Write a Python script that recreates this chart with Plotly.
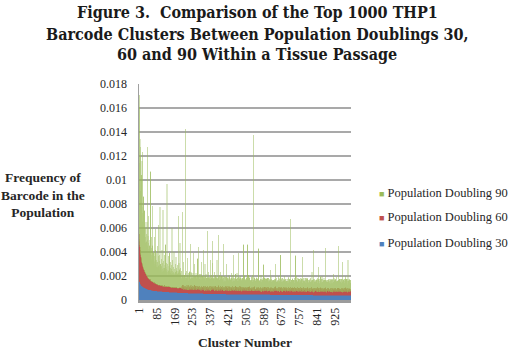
import plotly.graph_objects as go

# values are in units of 1e-5 (frequency of barcode)
SCALE = 1e-5

PD30_ROWS = [
    [170,162,155,150,146,142,138,135,132,129, 126,124,122,120,118,116,114,113,112,110, 109,108,107,106,105,104,103,102,101,100, 99,98,97,96,95,95,94,93,92,92, 91,90,90,89,88,88,87,87,86,86],
    [85,85,84,84,84,83,83,82,82,82, 81,81,81,80,80,80,79,79,79,79, 78,78,78,78,77,77,77,77,76,76, 76,76,76,75,75,75,75,75,74,74, 74,74,74,74,73,73,73,73,73,73],
    [72,72,72,72,72,72,71,71,71,71, 71,71,70,70,70,70,70,70,70,69, 69,69,69,69,69,69,68,68,68,68, 68,68,68,68,67,67,67,67,67,67, 67,67,66,66,66,66,66,66,66,66],
    [66,66,66,65,65,65,65,65,65,65, 65,65,64,64,64,64,64,64,64,64, 64,64,63,63,63,63,63,63,63,63, 63,63,62,62,62,62,62,62,62,62, 62,62,62,61,61,61,61,61,61,61],
    [61,61,61,61,61,60,60,60,60,60, 60,60,60,60,60,60,60,59,59,59, 59,59,59,59,59,59,59,59,59,59, 58,58,58,58,58,58,58,58,58,58, 58,58,58,58,57,57,57,57,57,57],
    [57,57,57,57,57,57,57,57,57,57, 57,57,57,57,57,56,56,56,56,56, 56,56,56,56,56,56,56,56,56,56, 56,56,56,56,55,55,55,55,55,55, 55,55,55,55,55,55,55,55,55,55],
    [55,55,55,55,55,54,54,54,54,54, 54,54,54,54,54,54,54,54,54,54, 54,54,54,54,54,53,53,53,53,53, 53,53,53,53,53,53,53,53,53,53, 53,53,53,53,53,53,52,52,52,52],
    [52,52,52,52,52,52,52,52,52,52, 52,52,52,52,52,52,52,52,52,52, 52,52,52,52,52,51,51,51,51,51, 51,51,51,51,51,51,51,51,51,51, 51,51,51,51,51,51,51,51,51,51],
    [51,51,51,51,51,51,51,51,51,51, 50,50,50,50,50,50,50,50,50,50, 50,50,50,50,50,50,50,50,50,50, 50,50,50,50,50,50,50,50,50,50, 49,49,49,49,49,49,49,49,49,49],
    [49,49,49,49,49,49,49,49,49,49, 49,49,49,49,49,49,49,49,49,49, 49,49,49,49,49,49,49,49,49,49, 48,48,48,48,48,48,48,48,48,48, 48,48,48,48,48,48,48,48,48,48],
    [48,48,48,48,48,48,48,48,48,48, 48,48,48,48,48,48,48,48,48,48, 47,47,47,47,47,47,47,47,47,47, 47,47,47,47,47,47,47,47,47,47, 47,47,47,47,47,47,47,47,47,47],
    [47,47,47,47,47,47,47,47,47,47, 47,47,47,47,47,46,46,46,46,46, 46,46,46,46,46,46,46,46,46,46, 46,46,46,46,46,46,46,46,46,46, 46,46,46,46,46,46,46,46,46,46],
    [46,46,46,46,46,46,46,46,46,46, 46,46,46,46,46,46,46,46,46,46, 45,45,45,45,45,45,45,45,45,45, 45,45,45,45,45,45,45,45,45,45, 45,45,45,45,45,45,45,45,45,45],
    [45,45,45,45,45,45,45,45,45,45, 45,45,45,45,45,45,45,45,45,45, 45,45,45,45,45,44,44,44,44,44, 44,44,44,44,44,44,44,44,44,44, 44,44,44,44,44,44,44,44,44,44],
    [44,44,44,44,44,44,44,44,44,44, 44,44,44,44,44,44,44,44,44,44, 44,44,44,44,44,43,43,43,43,43, 43,43,43,43,43,43,43,43,43,43, 43,43,43,43,43,43,43,43,43,43],
    [43,43,43,43,43,43,43,43,43,43, 43,43,43,43,43,43,43,43,43,43, 42,42,42,42,42,42,42,42,42,42, 42,42,42,42,42,42,42,42,42,42, 42,42,42,42,42,42,42,42,42,42],
    [42,42,42,42,42,42,42,42,42,42, 42,42,42,42,42,42,42,42,42,42, 41,41,41,41,41,41,41,41,41,41, 41,41,41,41,41,41,41,41,41,41, 41,41,41,41,41,41,41,41,41,41],
    [41,41,41,41,41,41,41,41,41,41, 41,41,41,41,41,41,41,41,41,41, 40,40,40,40,40,40,40,40,40,40, 40,40,40,40,40,40,40,40,40,40, 40,40,40,40,40,40,40,40,40,40],
    [40,40,40,40,40,40,40,40,40,40, 40,40,40,40,40,40,40,40,40,40, 40,40,40,40,40,39,39,39,39,39, 39,39,39,39,39,39,39,39,39,39, 39,39,39,39,39,39,39,39,39,39],
    [39,39,39,39,39,39,39,39,39,39, 39,39,39,39,39,39,39,39,39,39, 39,39,39,39,39,38,38,38,38,38, 38,38,38,38,38,38,38,38,38,38, 38,38,38,38,38,38,38,38,38,38],
]

PD60_ROWS = [
    [380,350,335,310,295,275,265,250,240,232, 222,214,205,198,192,185,178,172,166,160, 157,152,149,145,142,139,136,133,130,127, 124,121,119,116,113,111,108,106,104,102, 100,98,96,95,93,91,90,88,87,86],
    [85,88,82,80,84,78,76,80,74,73, 76,71,70,74,68,67,70,65,66,64, 68,63,62,65,61,60,64,59,58,62, 57,60,56,55,59,54,57,53,56,52, 55,51,54,50,53,50,52,49,51,48],
    [50,47,49,46,52,45,48,46,44,50, 45,47,43,46,48,44,42,47,45,43, 55,44,42,46,43,45,41,44,42,48, 43,41,45,42,44,40,43,41,46,42, 40,44,41,43,39,42,45,40,42,41],
    [43,40,42,39,44,41,40,43,38,42, 40,41,39,45,40,38,42,39,41,40, 38,43,39,41,37,40,42,38,40,39, 41,37,40,38,42,39,37,41,38,40, 36,39,41,38,37,40,38,39,37,41],
    [40,28,55,33,47,62,30,44,25,51, 38,66,29,45,35,58,27,49,41,32, 60,36,24,53,43,31,68,39,26,48, 34,57,42,29,63,37,46,23,52,40, 30,59,35,44,27,65,38,50,28,45],
    [33,56,41,26,61,35,48,29,54,39, 24,67,43,31,50,36,58,27,45,40, 62,30,47,25,55,38,33,64,42,28, 51,37,59,26,46,34,63,41,29,53, 36,48,24,60,39,31,57,44,27,50],
    [42,27,58,35,49,30,63,38,25,54, 45,33,61,28,47,39,56,24,51,36, 29,65,41,34,52,26,59,43,31,48, 37,62,28,55,40,33,46,25,60,38, 30,53,44,27,64,35,49,32,57,41],
    [29,52,38,61,33,46,25,58,42,35, 64,30,49,27,55,40,32,60,36,45, 26,57,43,31,66,37,48,24,53,39, 34,59,28,50,41,62,30,45,27,56, 38,33,63,42,29,51,36,58,25,47],
    [44,31,57,26,50,38,63,29,46,35, 55,24,60,40,32,53,28,48,37,65, 30,45,27,58,41,34,62,36,25,52, 43,29,56,33,61,39,47,26,54,31, 64,35,42,28,59,37,50,30,45,33],
    [36,58,27,49,41,64,30,45,33,56, 25,51,38,62,29,47,35,59,26,43, 54,31,66,39,28,50,42,34,61,27, 46,37,57,24,52,40,32,63,44,29, 55,36,48,26,60,34,41,53,30,45],
    [28,51,37,60,32,45,24,56,41,34, 63,29,48,36,54,26,59,40,31,47, 35,62,27,50,43,30,57,38,25,53, 44,33,61,28,46,36,55,24,51,39, 32,58,42,27,64,35,49,30,44,37],
    [41,26,55,34,48,29,62,37,45,31, 57,25,50,39,33,60,28,46,36,53, 30,65,40,27,52,35,58,24,47,38, 32,56,43,29,61,34,49,26,54,40, 28,59,37,45,31,63,35,48,25,51],
    [34,57,29,49,38,62,27,44,35,55, 31,60,40,26,52,37,46,30,58,33, 48,24,63,39,29,54,42,32,59,27, 45,36,56,25,50,41,33,61,28,47, 38,53,30,64,35,44,26,57,40,31],
    [47,30,58,26,42,36,61,33,49,28, 55,39,24,63,34,46,31,57,38,27, 52,44,29,60,35,48,25,56,41,32, 62,37,27,50,43,30,59,34,46,26, 54,39,31,65,36,45,28,53,40,33],
    [30,55,38,27,61,35,47,29,52,41, 33,58,26,49,37,63,28,44,36,56, 31,50,40,25,60,34,46,30,57,39, 27,53,43,32,62,36,48,24,55,38, 29,59,42,33,51,35,64,28,45,37],
    [39,27,54,33,60,30,46,37,57,26, 49,35,62,29,44,38,55,25,51,34, 58,31,42,28,63,36,47,32,56,27, 45,40,59,26,52,35,61,30,48,37, 28,57,41,33,54,29,64,36,46,31],
    [33,56,28,47,38,61,31,45,27,58, 40,34,63,29,50,36,55,26,48,39, 30,59,43,25,52,37,62,32,46,28, 57,35,44,30,60,38,27,53,41,34, 64,29,49,36,55,31,47,26,58,39],
    [45,29,57,34,50,26,62,38,31,54, 36,60,28,47,40,33,58,25,52,37, 44,30,63,35,48,27,56,39,32,61, 29,46,41,55,26,51,36,59,31,43, 38,64,28,49,34,57,30,45,37,53],
    [31,54,39,27,60,35,46,29,57,40, 33,62,26,48,37,55,30,44,38,61, 28,51,42,34,59,27,47,36,63,31, 45,39,56,25,52,35,58,30,43,41, 26,60,37,49,32,55,29,46,38,53],
    [37,28,52,35,58,30,44,39,61,27, 49,34,55,31,46,26,60,38,42,33, 57,29,48,36,63,30,45,40,54,28, 51,35,59,26,47,37,56,32,43,39, 62,29,50,34,53,31,45,38,57,33],
]

PD90_ROWS = [
    [500,1100,650,1250,900,450,800,520,900,400, 600,700,380,450,850,420,360,950,500,340, 400,600,300,350,280,500,320,260,420,300, 250,380,270,230,340,280,220,450,300,1080, 260,220,350,240,200,300,520,230,190,280],
    [210,330,250,180,900,240,200,360,170,220, 280,190,160,300,210,640,180,150,250,200, 170,380,160,140,230,190,150,280,170,450, 160,200,140,260,180,150,320,140,190,130, 240,160,130,500,150,200,120,170,250,650],
    [140,180,120,160,220,130,110,170,300,140, 120,190,110,635,150,130,210,120,100,260, 140,110,180,130,350,120,100,160,200,110, 130,150,855,120,100,190,140,110,250,130, 100,170,120,280,110,140,100,160,120,210],
    [130,100,150,110,180,490,120,100,140,230, 110,130,100,170,120,300,110,100,150,120, 200,110,130,100,260,120,140,100,160,110, 190,120,100,140,600,110,130,100,210,120, 100,150,110,380,130,100,170,120,110,140],
    [75,95,85,640,90,75,120,85,95,75, 220,85,90,75,110,85,95,1320,85,75, 105,90,75,130,85,95,75,110,90,75, 260,85,95,75,105,90,75,85,125,75, 90,350,85,75,95,110,85,75,140,90],
    [75,95,85,75,110,300,85,90,75,105, 85,75,200,90,75,95,85,75,120,90, 75,85,105,75,90,250,85,75,95,355, 85,75,90,110,75,85,95,75,130,85, 75,90,85,105,75,230,85,75,90,95],
    [75,85,305,90,75,105,85,75,95,75, 90,210,85,75,95,75,110,85,75,90, 85,455,75,95,85,75,125,90,75,85, 105,75,90,75,85,250,75,95,85,75, 90,75,110,85,75,95,75,410,200,75],
    [85,75,95,75,90,85,75,120,75,90, 85,75,105,75,85,90,75,220,85,75, 95,75,85,460,75,90,85,75,105,75, 85,90,75,130,85,75,95,75,85,90, 75,110,85,75,90,75,95,360,75,85],
    [70,80,85,70,100,70,80,70,95,70, 85,70,80,210,70,85,70,80,100,70, 80,70,85,70,115,70,80,95,70,80, 70,85,70,80,110,70,85,70,80,70, 95,70,80,70,265,70,85,80,70,95],
    [70,80,70,85,70,100,80,70,85,70, 80,70,140,70,80,85,70,80,315,70, 85,70,80,70,100,70,80,85,70,125, 70,80,70,85,70,95,80,70,85,70, 80,70,365,80,70,85,70,100,80,70],
    [80,65,75,65,90,65,75,80,65,75, 65,385,75,65,80,65,100,75,65,80, 65,75,110,65,75,80,65,75,65,90, 75,65,80,65,75,65,105,75,65,1285, 75,65,80,65,75,65,90,65,80,75],
    [65,75,80,65,90,65,75,65,80,65, 75,100,65,340,75,65,80,65,75,65, 80,65,90,75,65,130,65,75,80,65, 75,65,80,65,75,90,65,220,65,75, 65,80,65,75,105,65,75,80,65,75],
    [65,75,80,65,75,65,110,65,75,80, 65,75,65,90,65,75,80,65,150,65, 75,65,80,65,75,65,90,75,65,80, 65,75,65,100,65,80,75,65,75,65, 80,65,75,65,220,65,75,80,65,75],
    [65,75,65,80,65,75,90,65,75,65, 80,65,75,65,80,65,75,270,65,80, 75,65,75,65,100,65,75,80,65,75, 65,80,65,75,65,130,65,75,80,65, 75,65,80,65,75,65,90,65,75,80],
    [65,75,80,65,75,65,100,65,75,80, 65,75,65,80,65,570,75,65,80,65, 75,65,80,65,75,90,65,75,65,80, 75,65,80,65,75,65,80,75,270,65, 75,65,80,65,105,65,75,80,65,75],
    [65,75,80,65,75,65,90,65,75,80, 65,75,65,110,65,75,80,65,75,65, 75,65,272,65,75,80,65,75,65,90, 65,75,80,65,75,65,80,65,75,105, 65,75,80,65,75,65,80,65,75,65],
    [75,65,80,65,75,65,100,65,75,80, 65,75,65,80,65,75,140,65,75,80, 65,75,80,65,325,65,75,80,65,75, 65,80,65,75,65,90,65,75,80,65, 75,65,80,65,75,65,80,205,75,65],
    [75,65,80,65,75,65,90,65,75,80, 65,75,65,110,65,75,80,65,75,65, 75,65,80,65,75,90,65,75,80,65, 75,345,65,75,80,65,75,65,80,65, 75,65,100,65,75,80,65,75,65,80],
    [65,75,80,65,75,65,80,65,75,90, 65,75,65,80,65,75,150,65,75,80, 65,75,80,65,75,65,80,65,75,65, 105,75,65,80,65,75,65,80,75,65, 75,65,377,75,65,80,65,75,65,80],
    [75,65,80,65,75,65,90,65,75,80, 65,245,65,75,80,65,75,65,80,65, 75,65,80,65,75,130,65,75,80,65, 75,65,80,65,75,255,65,75,80,65, 75,65,80,65,75,65,80,65,75,65],
]

for nm, rows in (("PD30", PD30_ROWS), ("PD60", PD60_ROWS), ("PD90", PD90_ROWS)):
    bad = [(i, len(r)) for i, r in enumerate(rows) if len(r) != 50]
    assert not bad, (nm, bad)

PD30 = [v * SCALE for r in PD30_ROWS for v in r]
PD60 = [v * SCALE for r in PD60_ROWS for v in r]
PD90 = [v * SCALE for r in PD90_ROWS for v in r]
CLUSTERS = list(range(1, len(PD30) + 1))

SERIES_NAMES = ["Population Doubling 30", "Population Doubling 60", "Population Doubling 90"]
SERIES_COLORS = ["#4F81BD", "#C0504D", "#9BBB59"]
X_TICKS = [1, 85, 169, 253, 337, 421, 505, 589, 673, 757, 841, 925]
Y_TICKS = [0, 0.002, 0.004, 0.006, 0.008, 0.01, 0.012, 0.014, 0.016, 0.018]
Y_TICK_LABELS = ["0", "0.002", "0.004", "0.006", "0.008", "0.01", "0.012", "0.014", "0.016", "0.018"]
TITLE_LINES = ["Figure 3.  Comparison of the Top 1000 THP1",
               "Barcode Clusters Between Population Doublings 30,",
               "60 and 90 Within a Tissue Passage"]

SERIF = "Liberation Serif"
TITLE_FONT = "DejaVu Serif Condensed, Liberation Serif"
TXT = "#262626"

# plot area in pixels: x 139..351, y 84..300
L, R, T, B = 139, 169, 84, 50
PW, PH = 520 - L - R, 350 - T - B
def px(x):
    return (x - L) / PW
def py(y):
    return (350 - B - y) / PH

fig = go.Figure()
line_w = [0.5, 0.5, 0.4]
opac = [1.0, 1.0, 0.8]
for vals, name, color, lw, op in zip([PD30, PD60, PD90], SERIES_NAMES, SERIES_COLORS, line_w, opac):
    fig.add_trace(go.Bar(x=CLUSTERS, y=vals, name=name, showlegend=False, opacity=op,
                         marker=dict(color=color, line=dict(width=lw, color=color))))

annots = []
for txt, yc in zip(TITLE_LINES, [12, 34, 55]):
    annots.append(dict(text=f"<b>{txt}</b>", xref="paper", yref="paper",
                       x=px(257), y=py(yc), xanchor="center", yanchor="middle", showarrow=False,
                       font=dict(family=TITLE_FONT, size=16, color="#1a1a1a")))
annots.append(dict(text="<b>Frequency of<br>Barcode in the<br>Population</b>",
                   xref="paper", yref="paper", x=px(43), y=py(195),
                   xanchor="center", yanchor="middle", showarrow=False,
                   font=dict(family=SERIF, size=13.5, color=TXT)))
for (name, color), yc in zip(reversed(list(zip(SERIES_NAMES, SERIES_COLORS))), [193, 217, 243]):
    annots.append(dict(text=f'<span style="color:{color};font-size:9px">■</span> {name}',
                       xref="paper", yref="paper", x=px(377), y=py(yc),
                       xanchor="left", yanchor="middle", showarrow=False,
                       font=dict(family=SERIF, size=12.5, color=TXT)))

fig.update_layout(
    template="none",
    width=520, height=350,
    margin=dict(l=L, r=R, t=T, b=B, pad=0, autoexpand=False),
    paper_bgcolor="white", plot_bgcolor="white",
    barmode="stack", bargap=0, showlegend=False,
    xaxis=dict(
        range=[0.5, len(CLUSTERS) + 0.5], automargin=False,
        tickmode="array", tickvals=X_TICKS, ticktext=[str(t) for t in X_TICKS],
        tickangle=-90, showgrid=False, zeroline=False, ticks="",
        showline=True, linecolor="#9c9c9c", linewidth=3,
        tickfont=dict(family=SERIF, size=12, color=TXT),
        title=dict(text="<b>Cluster Number</b>", font=dict(family=SERIF, size=13.5, color=TXT), standoff=13),
    ),
    yaxis=dict(
        range=[0, 0.018], automargin=False,
        tickmode="array", tickvals=Y_TICKS, ticktext=Y_TICK_LABELS,
        showgrid=True, gridcolor="#a9a9a9", gridwidth=2, zeroline=False, ticks="",
        showline=True, linecolor="#a0a0a0", linewidth=1.5,
        tickfont=dict(family=SERIF, size=12, color=TXT),
        ticklabelstandoff=8,
    ),
    annotations=annots,
)

fig.write_html("out.html", config={"staticPlot": True},
               post_script="document.body.style.margin='0';document.body.style.padding='0';")
